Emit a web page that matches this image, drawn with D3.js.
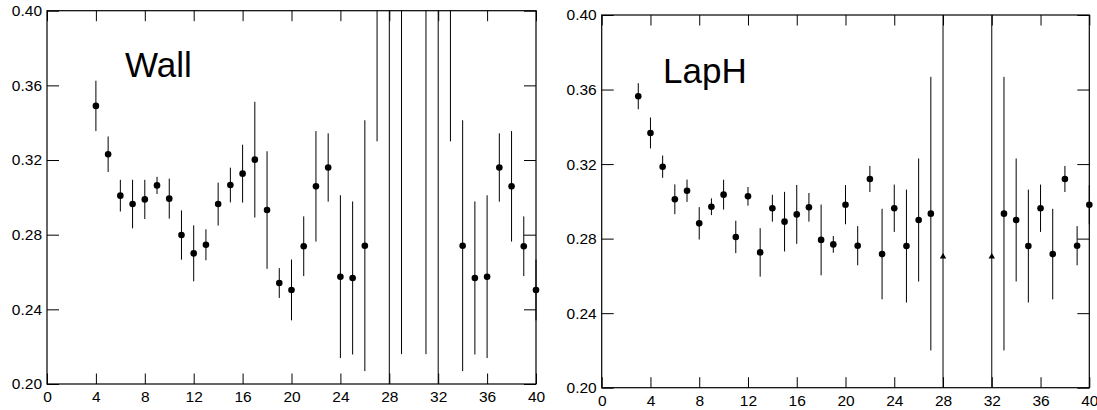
<!DOCTYPE html>
<html><head><meta charset="utf-8">
<script src="https://cdn.jsdelivr.net/npm/d3@7"></script>
<style>body{margin:0;background:#fff}svg{display:block}text{font-family:"Liberation Sans",Arial,Helvetica,sans-serif}</style>
</head><body>
<script>
// ---------- data ----------
const xMajorTicks = [0,4,8,12,16,20,24,28,32,36,40];
const yMajorTicks = [0.20,0.24,0.28,0.32,0.36,0.40];
const yTickLabels = ["0.20","0.24","0.28","0.32","0.36","0.40"];

const wallT   = [4,5,6,7,8,9,10,11,12,13,14,15,16,17,18,19,20,21,22,23,24,25,26,27,28,29,31,32,33,34,35,36,37,38,39,40];
const wallVal = [0.349,0.3231,0.3009,0.2964,0.2989,0.3064,0.2993,0.2798,0.2700,0.2746,0.2964,0.3066,0.3127,0.3202,0.2932,0.2541,0.2504,0.2738,0.3059,0.3160,0.2575,0.2568,0.2741,0.48,0.45,0.47,0.47,0.45,0.48,0.2741,0.2568,0.2575,0.3160,0.3059,0.2738,0.2504];
const wallErr = [0.0135,0.0095,0.0085,0.013,0.0105,0.0046,0.0107,0.0132,0.015,0.0083,0.0115,0.0093,0.0155,0.031,0.0315,0.008,0.0163,0.016,0.0296,0.0183,0.0436,0.041,0.0672,0.15,0.26,0.254,0.254,0.26,0.15,0.0672,0.041,0.0436,0.0183,0.0296,0.016,0.0163];

const laphT   = [3,4,5,6,7,8,9,10,11,12,13,14,15,16,17,18,19,20,21,22,23,24,25,26,27,28,32,33,34,35,36,37,38,39,40];
const laphVal = [0.3564,0.3367,0.3186,0.3011,0.3057,0.2882,0.2971,0.3036,0.2809,0.3027,0.2726,0.2963,0.2891,0.2930,0.2968,0.2793,0.2769,0.2982,0.2762,0.3120,0.2717,0.2963,0.2760,0.2900,0.2934,0.2703,0.2703,0.2934,0.2900,0.2760,0.2963,0.2717,0.3120,0.2762,0.2982];
const laphErr = [0.007,0.0083,0.006,0.008,0.006,0.0087,0.0045,0.008,0.0087,0.005,0.013,0.0072,0.016,0.0158,0.0077,0.019,0.0045,0.0105,0.0105,0.007,0.0243,0.0127,0.0303,0.033,0.0734,0.3,0.3,0.0734,0.033,0.0303,0.0127,0.0243,0.007,0.0105,0.0105];
const laphMarker = laphT.map(t => (t===28||t===32) ? "triangle" : "circle");

const panels = [
  {title:"Wall", t:wallT, v:wallVal, e:wallErr, m:wallT.map(()=>"circle"),
   x0:47, x1:536, y0:10.7, y1:384, tx:125, ty:77},
  {title:"LapH", t:laphT, v:laphVal, e:laphErr, m:laphMarker,
   x0:601.7, x1:1089.3, y0:15, y1:387.7, tx:663, ty:83}
];

const W=1097,H=410;
const svg=d3.select("body").append("svg").attr("width",W).attr("height",H);
svg.append("rect").attr("width",W).attr("height",H).attr("fill","#fff");

const xMinor=d3.range(0,41,1);
const yMinor=d3.range(20,41,1).map(d=>d/100);

panels.forEach((p,pi)=>{
  const x=d3.scaleLinear().domain([0,40]).range([p.x0,p.x1]);
  const y=d3.scaleLinear().domain([0.20,0.40]).range([p.y1,p.y0]);
  const g=svg.append("g");
  const clipId="clip"+pi;
  svg.append("clipPath").attr("id",clipId).append("rect")
    .attr("x",p.x0-20).attr("y",p.y0).attr("width",p.x1-p.x0+40).attr("height",p.y1-p.y0);

  const fs="15.5px";
  // bottom axis
  const gb=g.append("g").attr("transform",`translate(0,${p.y1})`);
  gb.call(d3.axisBottom(x).tickValues(xMinor).tickSize(-5).tickFormat(""));
  gb.call(d3.axisBottom(x).tickValues(xMajorTicks).tickSize(-10.5).tickPadding(7).tickFormat(d3.format("d")));
  // top axis
  const gt=g.append("g").attr("transform",`translate(0,${p.y0})`);
  gt.call(d3.axisTop(x).tickValues(xMinor).tickSize(-5).tickFormat(""));
  gt.call(d3.axisTop(x).tickValues(xMajorTicks).tickSize(-10.5).tickFormat(""));
  // left axis
  const gl=g.append("g").attr("transform",`translate(${p.x0},0)`);
  gl.call(d3.axisLeft(y).tickValues(yMinor).tickSize(-6.5).tickFormat(""));
  gl.call(d3.axisLeft(y).tickValues(yMajorTicks).tickSize(-12).tickPadding(5).tickFormat((d,i)=>yTickLabels[i]));
  // right axis
  const gr=g.append("g").attr("transform",`translate(${p.x1},0)`);
  gr.call(d3.axisRight(y).tickValues(yMinor).tickSize(-6.5).tickFormat(""));
  gr.call(d3.axisRight(y).tickValues(yMajorTicks).tickSize(-12).tickFormat(""));

  g.selectAll(".domain").remove();
  g.selectAll(".tick line").attr("stroke","#000").attr("stroke-width",1);
  g.selectAll(".tick text").attr("fill","#000").style("font-size",fs).style("font-family",'"Liberation Sans",Arial,sans-serif');

  // frame
  g.append("rect").attr("x",p.x0).attr("y",p.y0).attr("width",p.x1-p.x0).attr("height",p.y1-p.y0)
    .attr("fill","none").attr("stroke","#000").attr("stroke-width",1.2);

  const data=p.t.map((t,i)=>({t, v:p.v[i], e:p.e[i], m:p.m[i]}));
  // error bars
  g.append("g").attr("clip-path",`url(#${clipId})`).selectAll("line").data(data).join("line")
    .attr("x1",d=>x(d.t)).attr("x2",d=>x(d.t))
    .attr("y1",d=>y(d.v+d.e)).attr("y2",d=>y(d.v-d.e))
    .attr("stroke","#000").attr("stroke-width",1);
  // markers
  const inR=data.filter(d=>d.v>=0.20&&d.v<=0.40);
  g.selectAll("circle.pt").data(inR.filter(d=>d.m==="circle")).join("circle").attr("class","pt")
    .attr("cx",d=>x(d.t)).attr("cy",d=>y(d.v)).attr("r",3.3).attr("fill","#000");
  g.selectAll("path.tri").data(inR.filter(d=>d.m==="triangle")).join("path").attr("class","tri")
    .attr("d",d3.symbol(d3.symbolTriangle,18))
    .attr("transform",d=>`translate(${x(d.t)},${y(d.v)})`).attr("fill","#000");

  // title
  g.append("text").attr("x",p.tx).attr("y",p.ty).text(p.title)
    .style("font-size","35px").attr("fill","#000");
});
</script>
</body></html>
